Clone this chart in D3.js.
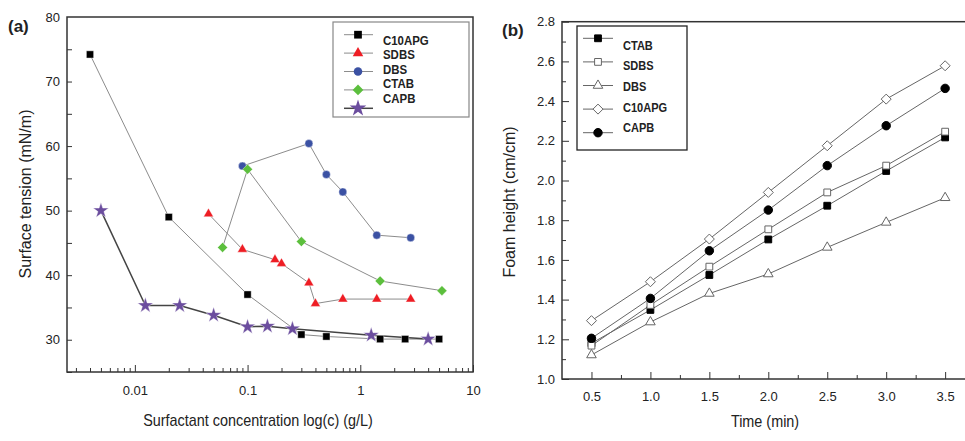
<!DOCTYPE html>
<html>
<head>
<meta charset="utf-8">
<script src="https://cdn.jsdelivr.net/npm/d3@7"></script>
<style>
  body { margin:0; background:#fff; }
  text { font-family: "Liberation Sans", Arial, sans-serif; fill:#222; }
</style>
</head>
<body>
<div id="my_dataviz"></div>
<script>
// ---- data, panel (a): surface tension vs concentration ----
var namesA = ["C10APG", "SDBS", "DBS", "CTAB", "CAPB"];
var c10apgConc = [0.004, 0.02, 0.1, 0.3, 0.5, 1.5, 2.5, 5];
var c10apgTension = [74.2, 49.0, 37.0, 30.8, 30.5, 30.1, 30.1, 30.1];
var sdbsConc = [0.045, 0.09, 0.175, 0.2, 0.35, 0.4, 0.7, 1.4, 2.8];
var sdbsTension = [49.5, 44.0, 42.4, 41.8, 38.8, 35.6, 36.3, 36.3, 36.3];
var dbsConc = [0.09, 0.35, 0.5, 0.7, 1.4, 2.8];
var dbsTension = [56.9, 60.4, 55.6, 52.9, 46.2, 45.8];
var ctabConc = [0.06, 0.1, 0.3, 1.5, 5.3];
var ctabTension = [44.3, 56.4, 45.2, 39.1, 37.6];
var capbConc = [0.005, 0.0124, 0.025, 0.05, 0.1, 0.15, 0.25, 1.25, 4];
var capbTension = [50.0, 35.3, 35.3, 33.8, 32.0, 32.1, 31.7, 30.7, 30.1];
var concTickLabels = [0.01, 0.1, 1, 10];
var tensionTicks = [30, 40, 50, 60, 70, 80];

// ---- data, panel (b): foam height vs time ----
var namesB = ["CTAB", "SDBS", "DBS", "C10APG", "CAPB"];
var times = [0.5, 1.0, 1.5, 2.0, 2.5, 3.0, 3.5];
var ctabFoam = [1.18, 1.348, 1.524, 1.703, 1.873, 2.048, 2.217];
var sdbsFoam = [1.168, 1.373, 1.566, 1.754, 1.940, 2.075, 2.246];
var dbsFoam = [1.121, 1.287, 1.431, 1.529, 1.663, 1.789, 1.913];
var c10apgFoam = [1.294, 1.490, 1.705, 1.940, 2.175, 2.410, 2.578];
var capbFoam = [1.205, 1.406, 1.646, 1.851, 2.075, 2.276, 2.464];
var timeTicks = [0.5, 1.0, 1.5, 2.0, 2.5, 3.0, 3.5];
var foamTicks = [1.0, 1.2, 1.4, 1.6, 1.8, 2.0, 2.2, 2.4, 2.6, 2.8];

var width = 965, height = 441;

var svg = d3.select("#my_dataviz")
  .append("svg")
    .attr("width", width)
    .attr("height", height);

// small helper: turn parallel arrays into point objects
function zipPts(xs, ys) { return xs.map(function(d, i) { return {x: d, y: ys[i]}; }); }

var rotDiamond = { draw: function(ctx, size) { // square turned 45 degrees
  var h = Math.sqrt(size / 2);
  ctx.moveTo(0, -h); ctx.lineTo(h, 0); ctx.lineTo(0, h); ctx.lineTo(-h, 0); ctx.closePath();
} };

// =================== panel (a) ===================
var xA = d3.scaleLog().domain([0.0025, 10]).range([67, 473]);
var yA = d3.scaleLinear().domain([25, 80]).range([372, 17]);

var gA = svg.append("g");

// minor log ticks
var minorConc = [];
[0.001, 0.01, 0.1, 1].forEach(function(p) {
  for (var k = 2; k < 10; k++) { var v = p * k; if (v >= 0.0025 && v <= 10) minorConc.push(v); }
});
gA.append("g")
  .attr("transform", "translate(0,372)")
  .call(d3.axisBottom(xA).tickValues(minorConc).tickSize(-4).tickFormat(""))
  .call(function(g) { g.select(".domain").remove(); g.selectAll("line").attr("stroke", "#333"); });
gA.append("g")
  .attr("transform", "translate(0,372)")
  .call(d3.axisBottom(xA).tickValues(concTickLabels).tickSize(-7).tickPadding(14)
    .tickFormat(function(d) { return d3.format("~g")(d); }))
  .call(function(g) {
    g.select(".domain").remove();
    g.selectAll("line").attr("stroke", "#333");
    g.selectAll("text").attr("font-size", 13).attr("fill", "#222")
      .attr("font-family", "Liberation Sans, Arial, sans-serif");
  });

// y ticks, every 5 with labels every 10
gA.append("g")
  .attr("transform", "translate(67,0)")
  .call(d3.axisLeft(yA).tickValues(d3.range(25, 80, 5)).tickSize(-5).tickFormat(""))
  .call(function(g) { g.select(".domain").remove(); g.selectAll("line").attr("stroke", "#333"); });
gA.append("g")
  .attr("transform", "translate(67,0)")
  .call(d3.axisLeft(yA).tickValues(tensionTicks).tickSize(0).tickPadding(7))
  .call(function(g) {
    g.select(".domain").remove();
    g.selectAll("text").attr("font-size", 13).attr("fill", "#222")
      .attr("font-family", "Liberation Sans, Arial, sans-serif");
  });

gA.append("rect")
  .attr("x", 67).attr("y", 17).attr("width", 406).attr("height", 355)
  .attr("fill", "none").attr("stroke", "#333").attr("stroke-width", 1.5);

var seriesA = [
  {name: "C10APG", pts: zipPts(c10apgConc, c10apgTension), color: "#000", sym: d3.symbolSquare, size: 52, line: "#8c8c8c", lw: 1},
  {name: "SDBS", pts: zipPts(sdbsConc, sdbsTension), color: "#ee1d24", sym: d3.symbolTriangle, size: 42, line: "#8c8c8c", lw: 1},
  {name: "DBS", pts: zipPts(dbsConc, dbsTension), color: "#3b51a3", sym: d3.symbolCircle, size: 50, line: "#8c8c8c", lw: 1},
  {name: "CTAB", pts: zipPts(ctabConc, ctabTension), color: "#5cbf3d", sym: rotDiamond, size: 50, line: "#8c8c8c", lw: 1},
  {name: "CAPB", pts: zipPts(capbConc, capbTension), color: "#6b4d9e", sym: d3.symbolStar, size: 75, line: "#444", lw: 1.5}
];

var lineA = d3.line().x(function(d) { return xA(d.x); }).y(function(d) { return yA(d.y); });

seriesA.forEach(function(s) {
  gA.append("path").datum(s.pts)
    .attr("d", lineA).attr("fill", "none").attr("stroke", s.line).attr("stroke-width", s.lw);
});
seriesA.forEach(function(s) {
  gA.append("g").selectAll("path").data(s.pts).enter().append("path")
    .attr("transform", function(d) { return "translate(" + xA(d.x) + "," + yA(d.y) + ")"; })
    .attr("d", d3.symbol().type(s.sym).size(s.size))
    .attr("fill", s.color).attr("stroke", "#fff").attr("stroke-width", 0.4);
});

// legend (a)
var legA = gA.append("g");
legA.append("rect").attr("x", 333).attr("y", 22).attr("width", 136).attr("height", 95)
  .attr("fill", "#fff").attr("stroke", "#888").attr("stroke-width", 1.2);
seriesA.forEach(function(s, i) {
  var my = 34.7 + i * 18.4;
  legA.append("line").attr("x1", 344).attr("x2", 373).attr("y1", my).attr("y2", my)
    .attr("stroke", s.line).attr("stroke-width", s.lw);
  legA.append("path").attr("transform", "translate(358," + my + ")")
    .attr("d", d3.symbol().type(s.sym).size(s.size * 1.15)).attr("fill", s.color);
  legA.append("text")
    .attr("transform", "translate(383," + (44.5 + i * 14.6) + ") scale(0.88,1)")
    .attr("font-size", 13).attr("font-weight", "bold").text(namesA[i]);
});

svg.append("text").attr("x", 8).attr("y", 32).attr("font-size", 17).attr("font-weight", "bold").text("(a)");
svg.append("text").attr("transform", "translate(31,194) rotate(-90)").attr("text-anchor", "middle")
  .attr("font-size", 16).text("Surface tension (mN/m)");
svg.append("text").attr("transform", "translate(258,426) scale(0.9,1)").attr("text-anchor", "middle")
  .attr("font-size", 16).text("Surfactant concentration log(c) (g/L)");

// =================== panel (b) ===================
var xB = d3.scaleLinear().domain([0.25, 3.75]).range([562, 974.6]);
var yB = d3.scaleLinear().domain([1.0, 2.8]).range([379, 21.7]);
var gB = svg.append("g");

gB.append("g")
  .attr("transform", "translate(0,379)")
  .call(d3.axisBottom(xB).tickValues(d3.range(0.75, 3.75, 0.5)).tickSize(-4).tickFormat(""))
  .call(function(g) { g.select(".domain").remove(); g.selectAll("line").attr("stroke", "#333"); });
gB.append("g")
  .attr("transform", "translate(0,379)")
  .call(d3.axisBottom(xB).tickValues(timeTicks).tickSize(-7).tickPadding(13).tickFormat(d3.format(".1f")))
  .call(function(g) {
    g.select(".domain").remove();
    g.selectAll("line").attr("stroke", "#333");
    g.selectAll("text").attr("font-size", 13).attr("fill", "#222")
      .attr("font-family", "Liberation Sans, Arial, sans-serif");
  });
gB.append("g")
  .attr("transform", "translate(562,0)")
  .call(d3.axisLeft(yB).tickValues(d3.range(1.1, 2.8, 0.2)).tickSize(-4).tickFormat(""))
  .call(function(g) { g.select(".domain").remove(); g.selectAll("line").attr("stroke", "#333"); });
gB.append("g")
  .attr("transform", "translate(562,0)")
  .call(d3.axisLeft(yB).tickValues(foamTicks).tickSize(-7).tickPadding(7).tickFormat(d3.format(".1f")))
  .call(function(g) {
    g.select(".domain").remove();
    g.selectAll("line").attr("stroke", "#333");
    g.selectAll("text").attr("font-size", 13).attr("fill", "#222")
      .attr("font-family", "Liberation Sans, Arial, sans-serif");
  });

gB.append("rect")
  .attr("x", 562).attr("y", 21.7).attr("width", 412.6).attr("height", 357.3)
  .attr("fill", "none").attr("stroke", "#333").attr("stroke-width", 1.5);

var seriesB = [
  {pts: zipPts(times, ctabFoam), sym: d3.symbolSquare, size: 46, fill: "#000", stroke: "#000"},
  {pts: zipPts(times, sdbsFoam), sym: d3.symbolSquare, size: 46, fill: "#fff", stroke: "#666"},
  {pts: zipPts(times, dbsFoam), sym: d3.symbolTriangle, size: 40, fill: "#fff", stroke: "#666"},
  {pts: zipPts(times, c10apgFoam), sym: rotDiamond, size: 50, fill: "#fff", stroke: "#666"},
  {pts: zipPts(times, capbFoam), sym: d3.symbolCircle, size: 56, fill: "#000", stroke: "#000"}
];

var lineB = d3.line().x(function(d) { return xB(d.x); }).y(function(d) { return yB(d.y); });
seriesB.forEach(function(s) {
  gB.append("path").datum(s.pts)
    .attr("d", lineB).attr("fill", "none").attr("stroke", "#666").attr("stroke-width", 1);
});
seriesB.forEach(function(s) {
  gB.append("g").selectAll("path").data(s.pts).enter().append("path")
    .attr("transform", function(d) { return "translate(" + xB(d.x) + "," + yB(d.y) + ")"; })
    .attr("d", d3.symbol().type(s.sym).size(s.size))
    .attr("fill", s.fill).attr("stroke", s.stroke).attr("stroke-width", 1);
});

// legend (b)
var legB = gB.append("g");
legB.append("rect").attr("x", 577).attr("y", 26).attr("width", 110).attr("height", 124)
  .attr("fill", "#fff").attr("stroke", "#222").attr("stroke-width", 1.3);
seriesB.forEach(function(s, i) {
  var my = 38.3 + i * 23.6;
  legB.append("line").attr("x1", 583).attr("x2", 613).attr("y1", my).attr("y2", my)
    .attr("stroke", "#666").attr("stroke-width", 1);
  legB.append("path").attr("transform", "translate(598," + my + ")")
    .attr("d", d3.symbol().type(s.sym).size(s.size))
    .attr("fill", s.fill).attr("stroke", s.stroke).attr("stroke-width", 1);
  legB.append("text")
    .attr("transform", "translate(623," + (49.5 + i * 20.7) + ") scale(0.92,1)")
    .attr("font-size", 12).attr("font-weight", "bold").text(namesB[i]);
});

svg.append("text").attr("x", 502).attr("y", 36).attr("font-size", 17).attr("font-weight", "bold").text("(b)");
svg.append("text").attr("transform", "translate(515,202) rotate(-90)").attr("text-anchor", "middle")
  .attr("font-size", 16).text("Foam height (cm/cm)");
svg.append("text").attr("transform", "translate(765,427) scale(0.9,1)").attr("text-anchor", "middle")
  .attr("font-size", 16).text("Time (min)");
</script>
</body>
</html>
